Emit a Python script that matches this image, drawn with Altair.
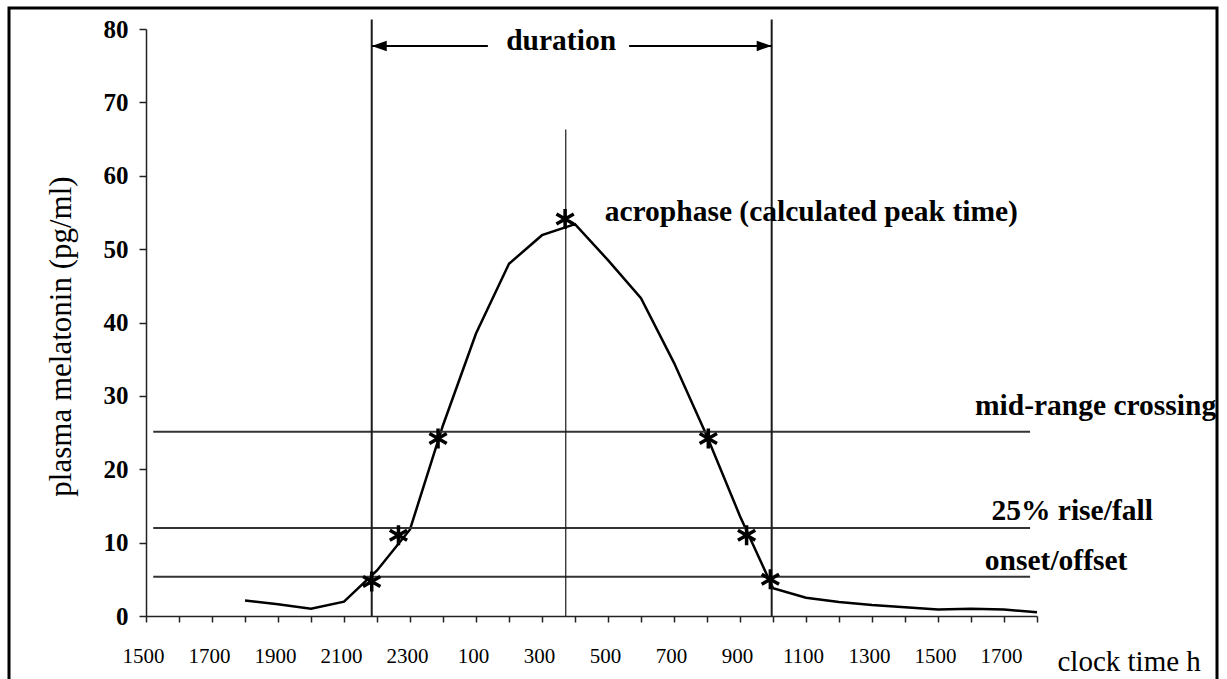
import altair as alt
import pandas as pd

FONT = "Liberation Serif"

# ---- data (x = clock hour, continuing past midnight as 24, 25, ...) ----
curve_hours = [18, 19, 20, 21, 22, 23, 24, 25, 26, 27, 28, 29, 30, 31, 32, 33, 34,
               35, 36, 37, 38, 39, 40, 41, 42]
curve_values = [2.1, 1.6, 1.0, 1.95, 6.2, 11.8, 26.0, 38.5, 48.0, 51.9, 53.4, 48.5,
                43.3, 34.5, 24.5, 13.6, 3.8, 2.5, 1.9, 1.5, 1.2, 0.9, 1.0, 0.9, 0.5]

star_hours = [21.84, 22.65, 23.85, 27.70, 32.04, 33.20, 33.92]
star_values = [4.7, 11.0, 24.2, 54.1, 24.2, 11.0, 5.0]

level_values = [25.1, 12.0, 5.35]
level_labels = ["mid-range crossing", "25% rise/fall", "onset/offset"]
level_label_hours = [40.12, 40.62, 40.42]
level_label_values = [27.4, 13.1, 6.3]
level_start, level_end = 15.22, 41.79

onset_hour, offset_hour, acrophase_hour = 21.84, 33.96, 27.72
bound_top = 81.3
acrophase_top = 66.3
arrow_value = 77.7
arrow_gap = [25.36, 29.64]
duration_hour, duration_value = 27.58, 77.1
acro_label_hour, acro_label_value = 28.9, 53.8

x_ticks = list(range(15, 43))
y_ticks = list(range(0, 81, 10))

xs = alt.Scale(domain=[15, 42], nice=False, zero=False)
ys = alt.Scale(domain=[0, 80], nice=False, zero=False)

curve_df = pd.DataFrame({"h": curve_hours, "v": curve_values})
star_df = pd.DataFrame({"h": star_hours, "v": star_values})
level_df = pd.DataFrame({"v": level_values, "h": [level_start] * 3, "h2": [level_end] * 3})
level_lab_df = pd.DataFrame({"t": level_labels, "h": level_label_hours, "v": level_label_values})
vline_df = pd.DataFrame({"h": [onset_hour, offset_hour], "v": [0, 0], "v2": [bound_top, bound_top]})
acro_df = pd.DataFrame({"h": [acrophase_hour], "v": [0], "v2": [acrophase_top]})
arrow_df = pd.DataFrame({"h": [onset_hour, arrow_gap[1]], "h2": [arrow_gap[0], offset_hour],
                         "v": [arrow_value, arrow_value]})
head_l = pd.DataFrame({"h": [onset_hour], "v": [arrow_value]})
head_r = pd.DataFrame({"h": [offset_hour], "v": [arrow_value]})
dur_df = pd.DataFrame({"h": [duration_hour], "v": [duration_value], "t": ["duration"]})
acro_lab_df = pd.DataFrame({"h": [acro_label_hour], "v": [acro_label_value],
                            "t": ["acrophase (calculated peak time)"]})

x_axis = alt.Axis(
    values=x_ticks,
    labelExpr="datum.value % 2 == 1 ? toString((datum.value % 24) * 100) : ''",
    labelFont=FONT, labelFontSize=21, labelColor="black", labelFlush=False,
    labelOverlap=False, labelPadding=23, labelOffset=-3,
    tickSize=6, tickColor="#222", tickWidth=1.5,
    domainColor="#222", domainWidth=1.5, grid=False,
    title="clock time h", titleFont=FONT, titleFontSize=29, titleFontWeight="normal",
    titleColor="black", titleX=911, titleY=54, titleAlign="left",
    titleBaseline="alphabetic", titleAngle=0,
)
y_axis = alt.Axis(
    values=y_ticks, format="d",
    labelFont=FONT, labelFontSize=25, labelFontWeight="bold", labelColor="black",
    labelPadding=11, labelFlush=False,
    tickSize=7, tickColor="#222", tickWidth=1.5,
    domainColor="#222", domainWidth=1.5, grid=False,
    title="plasma melatonin (pg/ml)", titleFont=FONT, titleFontSize=31,
    titleFontWeight="normal", titleColor="black", titleX=-85, titleY=307,
    titleAlign="center", titleBaseline="middle", titleAngle=270,
)


def X(field):
    return alt.X(field, type="quantitative", scale=xs, axis=x_axis)


def Y(field):
    return alt.Y(field, type="quantitative", scale=ys, axis=y_axis)


curve = alt.Chart(curve_df).mark_line(color="black", strokeWidth=2.5).encode(
    x=X("h"), y=Y("v"))

levels = alt.Chart(level_df).mark_rule(color="#333333", strokeWidth=2).encode(
    x=X("h"), x2="h2:Q", y=Y("v"))
level_text = alt.Chart(level_lab_df).mark_text(
    font=FONT, fontSize=29.5, fontWeight="bold", align="left", baseline="alphabetic",
    color="black").encode(x=X("h"), y=Y("v"), text="t:N")

vlines = alt.Chart(vline_df).mark_rule(color="#1a1a1a", strokeWidth=2).encode(
    x=X("h"), y=Y("v"), y2="v2:Q")
acro_line = alt.Chart(acro_df).mark_rule(color="#1a1a1a", strokeWidth=1.2).encode(
    x=X("h"), y=Y("v"), y2="v2:Q")
arrows = alt.Chart(arrow_df).mark_rule(color="black", strokeWidth=2).encode(
    x=X("h"), x2="h2:Q", y=Y("v"))
left_head = alt.Chart(head_l).mark_point(
    shape="M0,0L2,-0.7L2,0.7Z", size=225, filled=True, color="black", opacity=1).encode(
    x=X("h"), y=Y("v"))
right_head = alt.Chart(head_r).mark_point(
    shape="M0,0L-2,-0.7L-2,0.7Z", size=225, filled=True, color="black", opacity=1).encode(
    x=X("h"), y=Y("v"))
dur_text = alt.Chart(dur_df).mark_text(
    font=FONT, fontSize=29.5, fontWeight="bold", align="center", baseline="alphabetic",
    color="black").encode(x=X("h"), y=Y("v"), text="t:N")
acro_text = alt.Chart(acro_lab_df).mark_text(
    font=FONT, fontSize=29.5, fontWeight="bold", align="left", baseline="alphabetic",
    color="black").encode(x=X("h"), y=Y("v"), text="t:N")

stars = alt.Chart(star_df).mark_point(
    shape="M0,-1L0,1M-0.866,-0.5L0.866,0.5M-0.866,0.5L0.866,-0.5",
    size=400, filled=False, stroke="black", strokeWidth=3.5, opacity=1).encode(
    x=X("h"), y=Y("v"))

frame = alt.Chart(pd.DataFrame({"a": [0]})).mark_rect(
    fillOpacity=0, stroke="black", strokeWidth=3).encode(
    x=alt.value(-137), x2=alt.value(1071), y=alt.value(-21), y2=alt.value(670))

chart = alt.layer(
    curve, levels, vlines, acro_line, arrows, left_head, right_head,
    stars, level_text, dur_text, acro_text, frame,
).properties(
    width=891, height=587,
    padding={"left": 146, "top": 29, "right": 190, "bottom": 63},
    autosize=alt.AutoSizeParams(type="none"),
    background="white",
).configure_view(strokeWidth=0)

chart.save("out.html", embed_options={"renderer": "svg", "actions": False})
